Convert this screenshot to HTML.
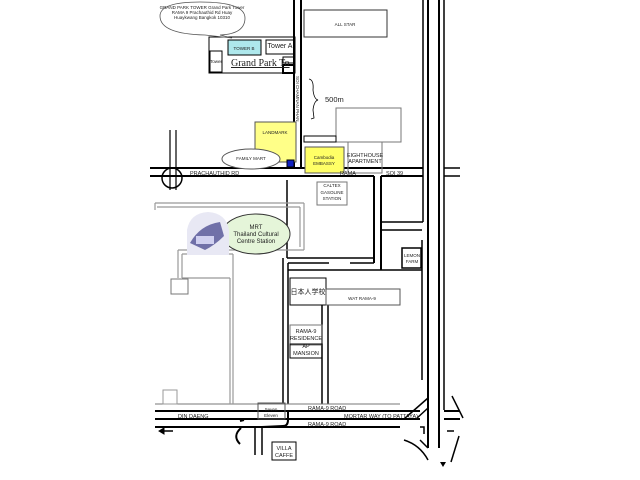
<!DOCTYPE html>
<html><head><meta charset="utf-8"><style>
html,body{margin:0;padding:0;background:#fff;}
svg{display:block;font-family:"Liberation Sans","Noto Sans CJK JP",sans-serif;}
</style></head><body>
<svg width="640" height="480" viewBox="0 0 640 480" xmlns="http://www.w3.org/2000/svg">
<rect width="640" height="480" fill="#fff"/>
<g stroke="#000" fill="none">
<line x1="423" y1="0" x2="423" y2="222" stroke-width="1.5"/>
<line x1="428" y1="0" x2="428" y2="448" stroke-width="2"/>
<line x1="439" y1="0" x2="439" y2="448" stroke-width="2"/>
<line x1="444" y1="0" x2="444" y2="410" stroke-width="1.5"/>
<line x1="422" y1="240" x2="422" y2="380" stroke-width="1.5"/>
<line x1="294" y1="0" x2="294" y2="168" stroke-width="2"/>
<line x1="301" y1="0" x2="301" y2="168" stroke-width="2"/>
<line x1="150" y1="168" x2="423" y2="168" stroke-width="2"/>
<line x1="150" y1="176" x2="374" y2="176" stroke-width="2"/>
<line x1="381" y1="176" x2="423" y2="176" stroke-width="2"/>
<line x1="444" y1="168" x2="460" y2="168" stroke-width="1.5"/>
<line x1="444" y1="176" x2="460" y2="176" stroke-width="1.5"/>
<circle cx="172" cy="178" r="10" stroke-width="1.5"/>
<line x1="170" y1="130" x2="170" y2="190" stroke-width="1.2"/>
<line x1="176" y1="130" x2="176" y2="190" stroke-width="1.2"/>
<line x1="374" y1="176" x2="374" y2="263" stroke-width="2"/>
<line x1="381" y1="176" x2="381" y2="270" stroke-width="2"/>
<line x1="381" y1="222" x2="423" y2="222" stroke-width="1.5"/>
<line x1="381" y1="230" x2="422" y2="230" stroke-width="1.5"/>
<line x1="288" y1="263" x2="329" y2="263" stroke-width="1.5"/>
<line x1="350" y1="263" x2="374" y2="263" stroke-width="1.5"/>
<line x1="288" y1="270" x2="422" y2="270" stroke-width="1.5"/>
<line x1="283" y1="258" x2="283" y2="404" stroke-width="1.5"/>
<line x1="288" y1="263" x2="288" y2="404" stroke-width="1.5"/>
<line x1="287" y1="180" x2="287" y2="258" stroke-width="1.5"/>
<line x1="287" y1="258" x2="374" y2="258" stroke-width="1.5"/>
<line x1="322" y1="305" x2="322" y2="404" stroke-width="1.5"/>
<line x1="328" y1="305" x2="328" y2="404" stroke-width="1.5"/>
<line x1="155" y1="404" x2="400" y2="404" stroke="#777" stroke-width="1"/>
<line x1="155" y1="411" x2="420" y2="411" stroke-width="2"/>
<line x1="155" y1="419" x2="420" y2="419" stroke-width="2"/>
<line x1="155" y1="427" x2="400" y2="427" stroke-width="2"/>
<line x1="444" y1="411" x2="460" y2="411" stroke-width="2"/>
<line x1="444" y1="419" x2="460" y2="419" stroke-width="2"/>
<line x1="404" y1="419" x2="428" y2="398" stroke-width="1.5"/>
<line x1="416" y1="419" x2="428" y2="408" stroke-width="1.5"/>
<line x1="452" y1="396" x2="463" y2="418" stroke-width="1.5"/>
<line x1="255" y1="427" x2="255" y2="455" stroke-width="1.5"/>
<line x1="262" y1="427" x2="262" y2="455" stroke-width="1.5"/>
<path d="M404 440 Q420 445 428 460" stroke-width="1.5"/>
<path d="M420 440 L428 448" stroke-width="1.5"/>
<line x1="459" y1="436" x2="451" y2="462" stroke-width="1.5"/>
<path d="M420 427 L424 427 L424 434" stroke-width="1.5"/>
<path d="M241 428 Q232 436 240 444" stroke-width="2"/>
<path d="M240 421 L244 420 M262 427 L283 426 Q288 426 288 420 L288 412" stroke-width="2"/>
<line x1="162" y1="431" x2="173" y2="431" stroke-width="1.5"/>
<polygon points="159,431 164,428 164,434" fill="#000"/>
<path d="M447 431 L454 431" stroke-width="1.5"/>
<polygon points="440,462 443,467 446,462" fill="#000" stroke="none"/>
<g stroke="#999" stroke-width="1.2">
<line x1="155" y1="203" x2="304" y2="203"/>
<line x1="157" y1="207" x2="300" y2="207"/>
<line x1="304" y1="203" x2="304" y2="250"/>
<line x1="300" y1="207" x2="300" y2="247"/>
<line x1="178" y1="250" x2="304" y2="250"/>
<line x1="182" y1="254" x2="233" y2="254"/>
<line x1="178" y1="250" x2="178" y2="278"/>
<line x1="182" y1="254" x2="182" y2="278"/>
<line x1="182" y1="278" x2="230" y2="278"/>
<line x1="230" y1="278" x2="230" y2="404"/>
<line x1="233" y1="254" x2="233" y2="404"/>
<line x1="155" y1="203" x2="155" y2="210"/>
</g>
<rect x="171" y="279" width="17" height="15" stroke="#777"/>
<rect x="163" y="390" width="14" height="14" stroke="#999"/>
<rect x="209" y="37" width="86" height="36" stroke-width="1"/>
<rect x="210" y="51" width="12" height="21"/>
<rect x="266" y="40" width="28" height="14"/>
<rect x="283" y="57" width="11" height="6"/>
<rect x="283" y="65" width="11" height="8" stroke-width="2"/>
<rect x="304" y="10" width="83" height="27" stroke="#333"/>
<rect x="336" y="108" width="65" height="34" stroke="#777"/>
<rect x="304" y="136" width="32" height="6"/>
<rect x="348" y="142" width="34" height="31" stroke="#777"/>
<rect x="317" y="182" width="30" height="23" stroke="#777"/>
<rect x="402" y="248" width="19" height="20" stroke-width="1.5"/>
<rect x="290" y="278" width="36" height="27"/>
<rect x="326" y="289" width="74" height="16" stroke="#555"/>
<rect x="290" y="325" width="32" height="20" stroke="#777"/>
<rect x="290" y="344" width="32" height="14"/>
<rect x="258" y="403" width="27" height="16" stroke="#555"/>
<rect x="272" y="442" width="24" height="18"/>
<path d="M309 79 Q314 80 313 90 Q314 99 318 100 Q314 101 313 110 L314 118 L311 119" stroke-width="0.8"/>
</g>
<rect x="228" y="40" width="33" height="15" fill="#aee8ec" stroke="#000"/>
<rect x="255" y="122" width="41" height="40" fill="#ffff88" stroke="#555"/>
<rect x="305" y="147" width="39" height="26" fill="#ffff66" stroke="#555"/>
<rect x="287" y="160" width="7" height="7" fill="#1020c0" stroke="#000"/>
<path d="M160 16 Q160 2 200 2 Q245 2 245 18 Q245 34 220 35 L232 38 L205 35 Q160 34 160 16Z" fill="#fff" stroke="#555" stroke-width="0.8"/>
<ellipse cx="251" cy="159" rx="29" ry="10" fill="#fff" stroke="#555"/>
<ellipse cx="256" cy="234" rx="34" ry="20" fill="#e5f5d9" stroke="#333"/>
<path d="M187 255 L187 230 Q190 213 208 212 Q226 213 229 230 L229 255 Z" fill="#e8e8f4"/>
<path d="M190 243 Q200 225 220 222 L224 236 Q215 245 205 250 Z" fill="#7070a8"/>
<rect x="196" y="236" width="18" height="8" fill="#d0d0f0"/>
<g font-size="4.5" text-anchor="middle" fill="#222">
<text x="202" y="9">GRAND PARK TOWER Grand Park Tower</text>
<text x="202" y="14">RAMA 9 Prachauthid Rd Huay</text>
<text x="202" y="19">Huaykwang Bangkok 10310</text>
<text x="244" y="50">TOWER B</text>
<text x="345" y="26">ALL STAR</text>
<text x="275" y="134">LANDMARK</text>
<text x="251" y="160">FAMILY MART</text>
<text x="324" y="159">Cambodia</text>
<text x="324" y="165">EMBASSY</text>
<text x="332" y="187">CALTEX</text>
<text x="332" y="194">GASOLINE</text>
<text x="332" y="200">STATION</text>
<text x="412" y="257">LEMON</text>
<text x="412" y="263">FARM</text>
<text x="362" y="300">WAT RAMA-9</text>
<text x="271" y="411">Seven</text>
<text x="271" y="417">Eleven</text>
<text x="216" y="63">Tower</text>
</g>
<g font-size="6" text-anchor="middle" fill="#222">
<text x="256" y="229">MRT</text>
<text x="256" y="236">Thailand Cultural</text>
<text x="256" y="243">Centre Station</text>
<text x="306" y="333" font-size="5.5">RAMA-9</text>
<text x="306" y="340" font-size="5.5">RESIDENCE</text>
<text x="306" y="348" font-size="5.5">AP</text>
<text x="306" y="355" font-size="5.5">MANSION</text>
<text x="365" y="157" font-size="5.5">EIGHTHOUSE</text>
<text x="365" y="163" font-size="5.5">APARTMENT</text>
<text x="284" y="450" font-size="5.5">VILLA</text>
<text x="284" y="457" font-size="5.5">CAFFE</text>
<text x="280" y="48" font-size="7">Tower A</text>
<text x="308" y="294" font-size="7">日本人学校</text>
</g>
<g font-size="5.5" fill="#222">
<text x="190" y="175">PRACHAUTHID RD</text>
<text x="340" y="175">RAMA</text>
<text x="386" y="175">SOI 39</text>
<text x="178" y="418">DIN DAENG</text>
<text x="308" y="410">RAMA-9 ROAD</text>
<text x="344" y="418">MORTAR WAY  (TO PATTAYA)</text>
<text x="308" y="426">RAMA-9 ROAD</text>
<text x="325" y="102" font-size="7.5">500m</text>
<text x="0" y="0" transform="translate(296,76) rotate(90)" font-size="4.5">SOI CHAMNAN PHAN</text>
</g>
<text x="231" y="66" font-family="Liberation Serif,serif" font-size="10" text-decoration="underline" fill="#222">Grand Park To</text>
</svg>
</body></html>
